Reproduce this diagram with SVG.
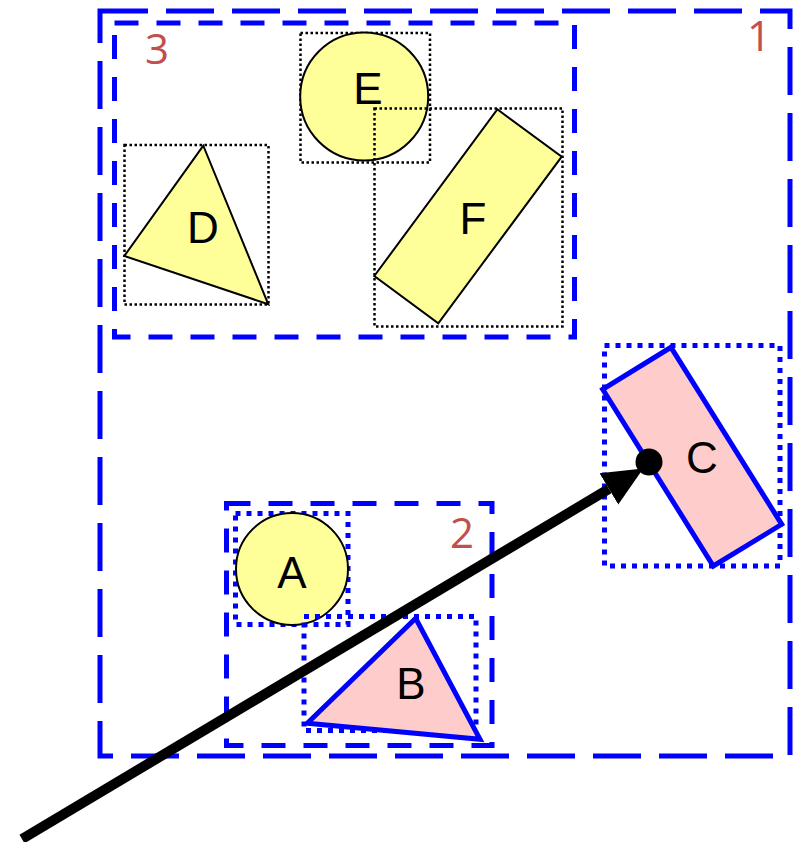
<svg xmlns="http://www.w3.org/2000/svg" width="796" height="842" viewBox="0 0 796 842">
<style>
.grp1{fill:none;stroke:#0000ff;stroke-width:5;stroke-dasharray:48 18}
.grp{fill:none;stroke:#0000ff;stroke-width:5;stroke-dasharray:24 18}
.bbox{fill:none;stroke:#000;stroke-width:2.5;stroke-dasharray:2.5 2.5}
.bboxb{fill:none;stroke:#0000ff;stroke-width:5;stroke-dasharray:5 6}
.yel{fill:#ffff99;stroke:#000;stroke-width:2}
.pink{fill:#ffcccc;stroke:#0000ff;stroke-width:5;stroke-linejoin:miter}
.lbl{font-family:"Liberation Sans",Arial,sans-serif;font-size:44px;fill:#000;text-anchor:middle}
.num{font-family:"Open Sans","Liberation Sans",sans-serif;font-size:42px;font-weight:500;fill:#c0504d;text-anchor:middle}
</style>
<defs>
<marker id="ah" markerUnits="userSpaceOnUse" markerWidth="40" markerHeight="40" viewBox="0 -16 35 32" refX="0" refY="0" orient="auto">
<path d="M0,-16 L35,0 L0,16 Z" fill="#000"/>
</marker>
</defs>
<g id="group1">
<rect class="grp1" x="100" y="11" width="690" height="745"/>
<text class="num" x="759" y="51">1</text>
</g>
<g id="group3">
<rect class="grp" x="114.5" y="23" width="460" height="314"/>
<text class="num" x="157" y="64">3</text>
</g>
<g id="group2">
<rect class="grp" x="226.5" y="503.5" width="265.5" height="242"/>
<text class="num" x="462" y="548">2</text>
</g>
<g id="D">
<rect class="bbox" x="124.5" y="145" width="144" height="159.5"/>
<polygon class="yel" points="203.3,145.7 124.3,256 268.3,304.3"/>
<text class="lbl" x="203" y="243">D</text>
</g>
<g id="E">
<rect class="bbox" x="300.5" y="33" width="129.5" height="129.5"/>
<circle class="yel" cx="364.2" cy="96.5" r="64"/>
<text class="lbl" x="368" y="104">E</text>
</g>
<g id="F">
<rect class="bbox" x="374.5" y="108.5" width="188" height="218"/>
<polygon class="yel" points="497.3,109.3 561.7,156.7 438.3,323.3 374.3,276"/>
<text class="lbl" x="473" y="234">F</text>
</g>
<g id="A">
<rect class="bboxb" x="235.5" y="513.5" width="112.5" height="111"/>
<circle class="yel" cx="292" cy="569" r="56"/>
<text class="lbl" x="292" y="588">A</text>
</g>
<g id="B">
<rect class="bboxb" x="304" y="616.5" width="172" height="114"/>
<polygon class="pink" points="415.7,618.3 307.3,723.3 480,739.3"/>
<text class="lbl" x="411" y="699">B</text>
</g>
<g id="C">
<rect class="bboxb" x="604.5" y="345.5" width="175.5" height="220.5"/>
<polygon class="pink" points="671,347.3 781.7,524.3 713.3,566 602.7,389.3"/>
<text class="lbl" x="702" y="473">C</text>
</g>
<g id="connectors">
<line x1="22" y1="839" x2="608.9" y2="488.9" stroke="#000" stroke-width="10" marker-end="url(#ah)"/>
<circle cx="649" cy="462" r="13.5" fill="#000"/>
</g>
</svg>
